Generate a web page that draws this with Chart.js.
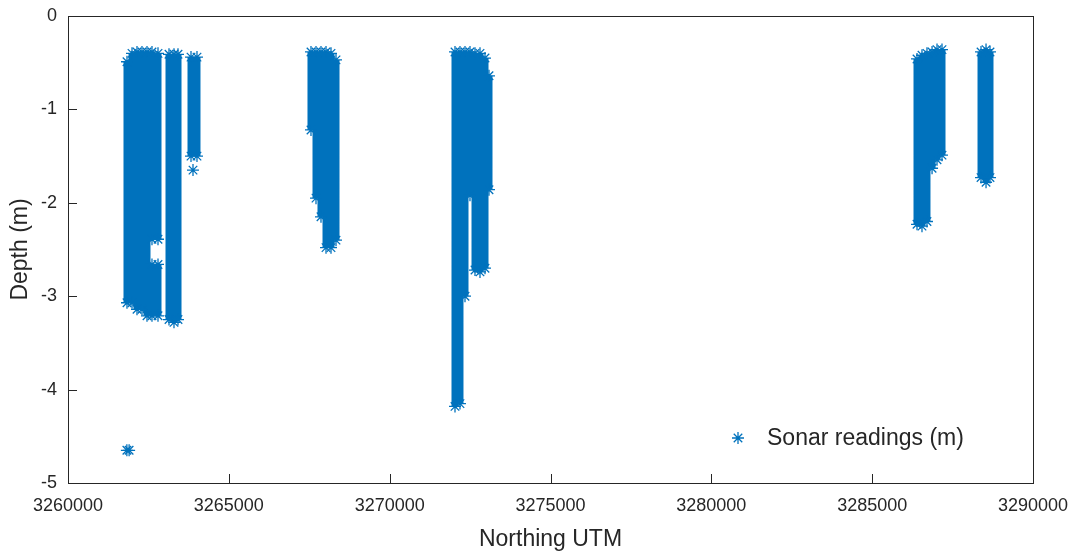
<!DOCTYPE html>
<html>
<head>
<meta charset="UTF-8">
<title>Sonar readings</title>
<script src="https://cdn.jsdelivr.net/npm/chart.js@4"></script>
<style>
  * { margin: 0; padding: 0; }
  body { background: #fff; width: 1081px; height: 554px; overflow: hidden; }
  #wrap { width: 1081px; height: 554px; }
</style>
</head>
<body>
<div id="wrap"><canvas id="c"></canvas></div>
<script>
// sonar passes: northing of each pass, shallowest and deepest reading
const passNorthing = [
  3261834, 3261990, 3262145, 3262300, 3262456, 3262611, 3262611, 3262798, 3262798,
  3263140, 3263295, 3263420, 3263824, 3264010,
  3267554, 3267710, 3267865, 3268021, 3268176, 3268332,
  3272031, 3272186, 3272342, 3272497, 3272653, 3272808, 3272964, 3273088,
  3286394, 3286549, 3286704, 3286862, 3287016, 3287171,
  3288384, 3288540, 3288663
];
const passTop = [
  -0.49, -0.40, -0.385, -0.385, -0.385, -0.385, -2.66, -0.40, -2.66,
  -0.41, -0.41, -0.41, -0.44, -0.44,
  -0.385, -0.385, -0.385, -0.385, -0.40, -0.47,
  -0.385, -0.385, -0.385, -0.385, -0.40, -0.40, -0.45, -0.64,
  -0.46, -0.42, -0.40, -0.385, -0.36, -0.36,
  -0.385, -0.36, -0.385
];
const passBottom = [
  -3.07, -3.07, -3.14, -3.14, -3.21, -2.39, -3.21, -2.39, -3.21,
  -3.25, -3.28, -3.25, -1.50, -1.50,
  -1.22, -1.95, -2.15, -2.48, -2.48, -2.40,
  -4.18, -4.15, -3.00, -1.92, -2.72, -2.74, -2.70, -1.86,
  -2.23, -2.25, -2.20, -1.63, -1.54, -1.49,
  -1.73, -1.78, -1.73
];
// lone readings
const singleNorthing = [3263886, 3261830, 3261900];
const singleDepth = [-1.65, -4.65, -4.65];

const xTicks = [3260000, 3265000, 3270000, 3275000, 3280000, 3285000, 3290000];
const yTicks = [0, -1, -2, -3, -4, -5];

const BLUE = '#0072BD';
const INK = '#262626';
const FONT = '"Liberation Sans", Arial, sans-serif';

const points = [];
passNorthing.forEach((n, i) => {
  points.push({ x: n, y: passTop[i] });
  points.push({ x: n, y: passBottom[i] });
  points.push({ x: n, y: null });
});
singleNorthing.forEach((n, i) => {
  points.push({ x: n, y: singleDepth[i] });
  points.push({ x: n, y: null });
});

function star(ctx, x, y, r) {
  const d = r * Math.SQRT1_2;
  ctx.beginPath();
  ctx.moveTo(x - r, y); ctx.lineTo(x + r, y);
  ctx.moveTo(x, y - r); ctx.lineTo(x, y + r);
  ctx.moveTo(x - d, y - d); ctx.lineTo(x + d, y + d);
  ctx.moveTo(x - d, y + d); ctx.lineTo(x + d, y - d);
  ctx.stroke();
}

const frame = {
  id: 'frame',
  afterDraw(chart) {
    const { ctx, chartArea: a, scales } = chart;
    ctx.save();
    ctx.strokeStyle = INK;
    ctx.lineWidth = 1;
    ctx.strokeRect(Math.round(a.left) + 0.5, Math.round(a.top) + 0.5,
      Math.round(a.right - a.left), Math.round(a.bottom - a.top));
    // inward ticks
    ctx.beginPath();
    xTicks.forEach(v => {
      const px = Math.round(scales.x.getPixelForValue(v)) + 0.5;
      ctx.moveTo(px, a.bottom); ctx.lineTo(px, a.bottom - 9);
    });
    yTicks.forEach(v => {
      const py = Math.round(scales.y.getPixelForValue(v)) + 0.5;
      ctx.moveTo(a.left, py); ctx.lineTo(a.left + 9, py);
    });
    ctx.stroke();

    // axis titles
    ctx.fillStyle = INK;
    ctx.font = '23px ' + FONT;
    ctx.textAlign = 'center';
    ctx.textBaseline = 'middle';
    ctx.fillText('Northing UTM', (a.left + a.right) / 2, 540);
    ctx.save();
    ctx.translate(21, (a.top + a.bottom) / 2);
    ctx.rotate(-Math.PI / 2);
    ctx.fillText('Depth (m)', 0, 0);
    ctx.restore();

    // legend inside the axes, no box
    const lx = a.right - 295, ly = a.bottom - 45;
    ctx.strokeStyle = BLUE;
    ctx.lineWidth = 1.3;
    star(ctx, lx, ly, 6);
    ctx.fillStyle = INK;
    ctx.textAlign = 'left';
    ctx.fillText(chart.data.datasets[0].label, lx + 29, ly + 1);
    ctx.restore();
  }
};

new Chart(document.getElementById('c'), {
  type: 'scatter',
  data: {
    datasets: [{
      label: 'Sonar readings (m)',
      data: points,
      showLine: true,
      spanGaps: false,
      borderColor: BLUE,
      borderWidth: 7,
      borderCapStyle: 'butt',
      pointStyle: 'star',
      pointRadius: 6,
      pointBorderWidth: 1.3,
      pointBorderColor: BLUE,
      pointBackgroundColor: BLUE,
      pointHoverRadius: 6
    }]
  },
  options: {
    responsive: true,
    maintainAspectRatio: false,
    animation: false,
    events: [],
    layout: { padding: { left: 0, top: 16, right: 48, bottom: 0 } },
    plugins: { legend: { display: false }, tooltip: { enabled: false } },
    scales: {
      x: {
        type: 'linear',
        min: 3260000, max: 3290000,
        afterBuildTicks: s => { s.ticks = xTicks.map(v => ({ value: v })); },
        afterFit: s => { s.height = 71; s.paddingLeft = 0; s.paddingRight = 0; },
        grid: { display: false, drawTicks: false },
        border: { display: false },
        ticks: {
          callback: v => String(v),
          color: INK,
          font: { family: FONT, size: 18 },
          padding: 12,
          maxRotation: 0,
          autoSkip: false
        }
      },
      y: {
        type: 'linear',
        min: -5, max: 0,
        afterBuildTicks: s => { s.ticks = yTicks.map(v => ({ value: v })); },
        afterFit: s => { s.width = 68; s.paddingTop = 0; s.paddingBottom = 0; },
        grid: { display: false, drawTicks: false },
        border: { display: false },
        ticks: {
          callback: v => String(v),
          color: INK,
          font: { family: FONT, size: 18 },
          padding: 11
        }
      }
    }
  },
  plugins: [frame]
});
</script>
</body>
</html>
